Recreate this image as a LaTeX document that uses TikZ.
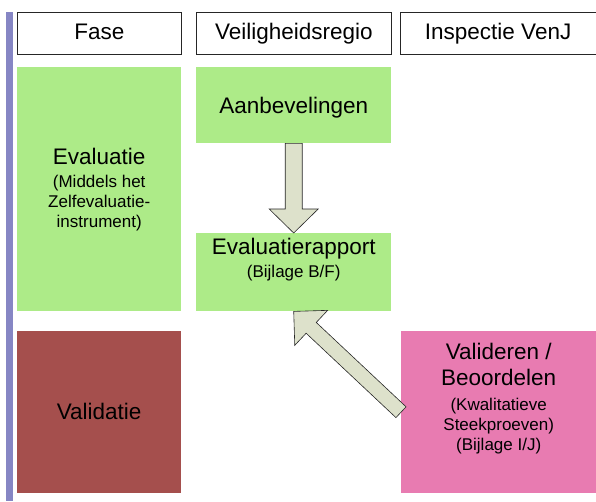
\documentclass[tikz,border=0pt]{standalone}
\usepackage{fontspec}
\setmainfont{Liberation Sans}
\usetikzlibrary{calc}
\definecolor{boxgreen}{HTML}{ADEB88}
\definecolor{boxred}{HTML}{A54F4D}
\definecolor{boxpink}{HTML}{E87BB1}
\definecolor{barpurple}{HTML}{8686C4}
\definecolor{arrowfill}{HTML}{DDE1CB}
\newcommand\fatarrow[5]{% tip, tail, head length, head half width, shaft half width
  \coordinate (fa-h) at ($(#1)!#3!(#2)$);
  \draw[blockarrow] (#1) -- ($(fa-h)!#4!90:(#2)$) -- ($(fa-h)!#5!90:(#2)$)
    -- ($(#2)!#5!-90:(#1)$) -- ($(#2)!#5!90:(#1)$)
    -- ($(fa-h)!#5!-90:(#2)$) -- ($(fa-h)!#4!-90:(#2)$) -- cycle;}
\begin{document}
\begin{tikzpicture}[x=1pt,y=-1pt,
  bigfont/.style={font=\fontsize{22.5}{27}\selectfont},
  header/.style={draw=black!85, line width=0.7pt, fill=white, minimum height=42,
    inner sep=0, anchor=north west, bigfont, text height=16.4, text depth=4.6},
  box/.style={inner sep=0, anchor=north west, align=center},
  label/.style={inner sep=0, align=center, font=\fontsize{17}{20}\selectfont},
  blockarrow/.style={fill=arrowfill, draw=black!85, line width=0.6pt, line join=miter}]
\useasboundingbox (0,0) rectangle (596,501);
\fill[barpurple] (6,12) rectangle (12.7,501);
% headers
\node[header, minimum width=164] (hfase) at (17,12) {Fase};
\node[header, minimum width=195] (hveil) at (196,12) {Veiligheidsregio};
\node[header, minimum width=195.5] (hinsp) at (400,12) {Inspectie VenJ};
% boxes
\node[box, fill=boxgreen, minimum width=164, minimum height=244,
  font=\fontsize{17}{20}\selectfont] (evalf) at (17,67)
  {{\fontsize{22.5}{27}\selectfont Evaluatie}\\[3pt](Middels het\\Zelfevaluatie-\\instrument)};
\node[box, fill=boxgreen, minimum width=195, minimum height=76, bigfont,
  text depth=0pt] (aanb) at (196,67) {Aanbevelingen};
\node[box, fill=boxgreen, minimum width=195, minimum height=78] (evalr) at (196,233) {};
\node[label, anchor=north] (evalrtxt) at ($(evalr.north)+(0,4.6)$)
  {{\fontsize{22.5}{27}\selectfont Evaluatierapport}\\[3pt](Bijlage B/F)};
\node[box, fill=boxred, minimum width=164, minimum height=162, bigfont,
  text depth=2pt] (valid) at (17,331) {Validatie};
\node[box, fill=boxpink, minimum width=195, minimum height=162] (valb) at (401,331) {};
\node[label, anchor=north] (valbtxt) at ($(valb.north)+(0,12)$)
  {{\fontsize{22.5}{27}\selectfont Valideren /}\\[6pt]{\fontsize{22.5}{27}\selectfont Beoordelen}\\[5pt](Kwalitatieve\\Steekproeven)\\(Bijlage I/J)};
% block arrows
\fatarrow{evalr.north}{aanb.south}{24pt}{24.5pt}{8.5pt}
\fatarrow{evalr.south}{valb.west}{24pt}{24pt}{7.4pt}
\end{tikzpicture}
\end{document}
